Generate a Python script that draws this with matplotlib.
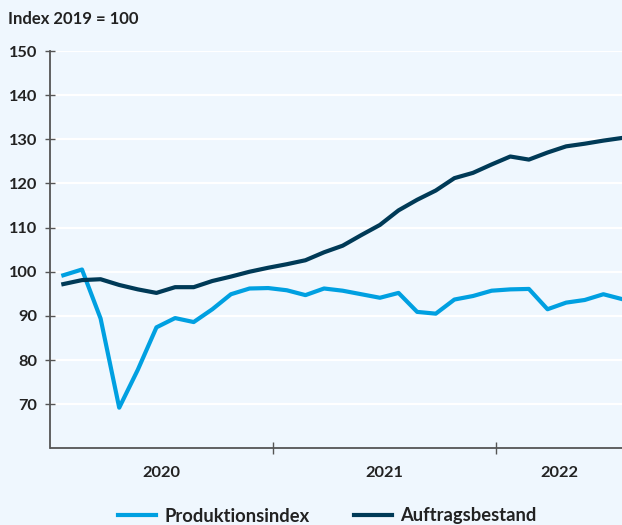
import numpy as np
import matplotlib.pyplot as plt
from matplotlib.ticker import FixedLocator

# Monatswerte Jan 2020 - Jul 2022 (Index 2019 = 100)
produktion = [99.2, 100.5, 89.4, 69.2, 77.8, 87.4, 89.5, 88.6, 91.5, 94.9, 96.2, 96.3,
              95.8, 94.7, 96.2, 95.7, 94.9, 94.1, 95.2, 90.9, 90.5, 93.7, 94.5, 95.7,
              96.0, 96.1, 91.5, 93.0, 93.6, 94.9, 93.8]
auftrag = [97.2, 98.1, 98.3, 97.0, 96.0, 95.2, 96.5, 96.5, 97.9, 98.9, 100.0, 100.9,
           101.7, 102.6, 104.4, 105.9, 108.3, 110.6, 113.9, 116.3, 118.4, 121.2, 122.4, 124.3,
           126.1, 125.4, 127.0, 128.4, 129.0, 129.7, 130.3]
year_labels = ["2020", "2021", "2022"]
year_ticks = [11.25, 23.25]
label_pos = [5.25, 17.25, 26.62]
y_ticks = [70, 80, 90, 100, 110, 120, 130, 140, 150]

bg = "#EFF7FE"
c_prod = "#00A0E1"
c_auft = "#003A57"
axis_col = "#555555"
text_col = "#222222"

plt.rcParams['font.family'] = ['Lato', 'DejaVu Sans']
plt.rcParams['font.weight'] = 'bold'

fig = plt.figure(figsize=(6.22, 5.25), dpi=100, facecolor=bg)
ax = fig.add_axes([50.5 / 622, 1 - 448.3 / 525, 1 - 50.5 / 622, (448.3 - 51) / 525])
ax.set_facecolor(bg)

x = np.arange(len(produktion))
ax.plot(x, produktion, color=c_prod, lw=3.0, label="Produktionsindex", clip_on=False)
ax.plot(x, auftrag, color=c_auft, lw=3.0, label="Auftragsbestand", clip_on=False)

ax.set_xlim(-0.69, 30)
ax.set_ylim(60, 150)

# Achsen
for s in ["top", "right"]:
    ax.spines[s].set_visible(False)
for s in ["left", "bottom"]:
    ax.spines[s].set_color(axis_col)
    ax.spines[s].set_linewidth(1.3)

ax.set_yticks(y_ticks)
ax.yaxis.grid(True, color="white", lw=1.6)
ax.set_axisbelow(True)
ax.tick_params(axis='y', direction='inout', length=7.5, width=1.0, color=axis_col,
               labelsize=11.8, labelcolor=text_col, pad=6)

ax.xaxis.set_major_locator(FixedLocator(year_ticks))
ax.xaxis.set_minor_locator(FixedLocator(label_pos))
ax.set_xticklabels([], minor=False)
ax.set_xticklabels(year_labels, minor=True)
ax.tick_params(axis='x', which='major', direction='inout', length=9, width=1.0, color=axis_col)
ax.tick_params(axis='x', which='minor', length=0, labelsize=11.8, labelcolor=text_col, pad=13)

for lab in ax.get_yticklabels() + ax.get_xticklabels(minor=True):
    lab.set_fontweight('bold')

fig.text(8 / 622, 1 - 19 / 525, "Index 2019 = 100", fontsize=12, fontweight='bold',
         color=text_col, va='center', ha='left')

leg = fig.legend(loc='center', bbox_to_anchor=(0.526, 1 - 516 / 525), ncol=2, frameon=False,
                 fontsize=13.2, handlelength=2.1, columnspacing=2.4, handletextpad=0.45)
for t in leg.get_texts():
    t.set_color(text_col)
    t.set_fontweight('bold')

fig.savefig("out.png", dpi=100, facecolor=bg)
